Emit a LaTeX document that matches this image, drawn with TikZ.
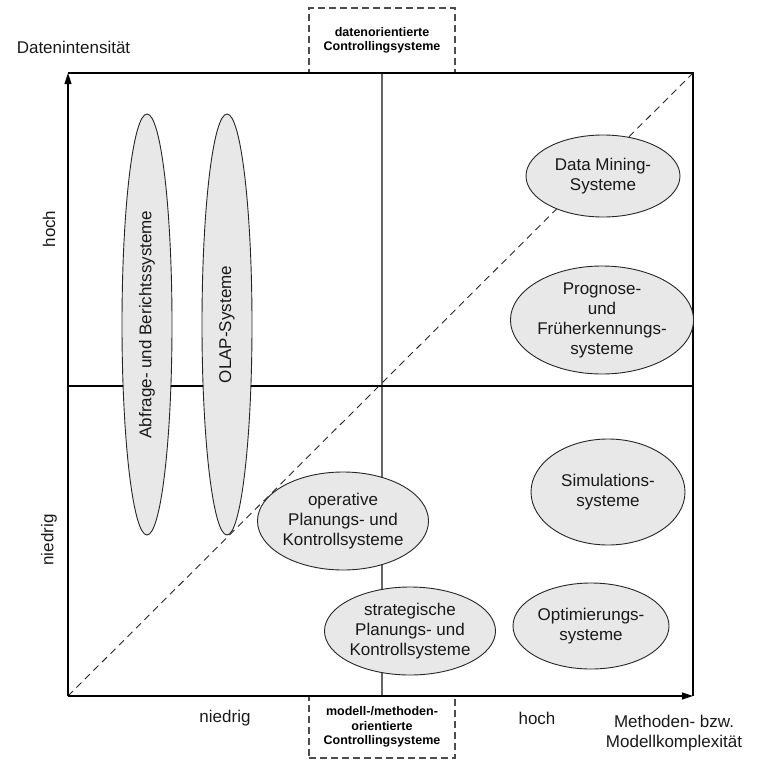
\documentclass[tikz,border=0pt]{standalone}
\usepackage{fontspec}
\setmainfont{Liberation Sans}
\usetikzlibrary{shapes.geometric,arrows.meta}
\begin{document}
\begin{tikzpicture}[x=1pt,y=-1pt,
  ell/.style={ellipse,draw=black!85,fill=black!9,line width=0.9pt,inner sep=0pt,align=center,text=black!90,font=\fontsize{17}{20}\selectfont},
  lab/.style={font=\fontsize{17}{20}\selectfont,align=center,inner sep=0pt,text=black!90},
  dbox/.style={draw=black!70,dash pattern=on 7pt off 4pt,line width=1.2pt,fill=white,font=\bfseries\fontsize{12.5}{14.5}\selectfont,align=center,inner sep=0pt,minimum width=146pt},
  frameline/.style={line width=1.1pt,black},
  arr/.style={-{Triangle[length=11pt,width=7pt]}}]
\useasboundingbox (0,0) rectangle (768,768);
% coordinates
\coordinate (O) at (68,696);
\coordinate (TL) at (68,73);
\coordinate (TR) at (693,73);
\coordinate (BR) at (693,696);
\coordinate (ML) at (68,386);
\coordinate (MR) at (693,386);
% dashed boxes
\node[dbox,minimum height=65pt] (topbox) at (382,40.5) {datenorientierte\\Controllingsysteme};
\node[dbox,minimum height=62pt] (botbox) at (382,727) {modell-/methoden-\\orientierte\\Controllingsysteme};
% grid lines
\draw[line width=1.1pt,black!60] (topbox.south) -- (botbox.north);
\draw[frameline] (ML) -- (MR);
\draw[frameline] (TL) -- (TR) -- (BR);
\draw[black!85,line width=0.9pt,dash pattern=on 7pt off 5pt] (O) -- (TR);
\draw[frameline,arr] (O) -- (TL);
\draw[frameline,arr] (O) -- (BR);
% ellipses
\node[ell,rotate=90,minimum width=421pt,minimum height=50pt] (abf) at (147,324.5) {Abfrage- und Berichtssysteme};
\node[ell,rotate=90,minimum width=421pt,minimum height=50pt] (olap) at (227,324.5) {OLAP-Systeme};
\node[ell,minimum width=154pt,minimum height=82pt] (dm) at (603,176) {Data Mining-\\Systeme};
\node[ell,minimum width=166pt,minimum height=108pt] (prog) at (602,320) {Prognose-\\und\\Früherkennungs-\\systeme};
\node[ell,minimum width=154pt,minimum height=106pt] (sim) at (608,492) {Simulations-\\systeme};
\node[ell,minimum width=156pt,minimum height=86pt] (opt) at (591,626) {Optimierungs-\\systeme};
\node[ell,minimum width=164pt,minimum height=98pt] (oper) at (343,521) {operative\\Planungs- und\\Kontrollsysteme};
\node[ell,minimum width=156pt,minimum height=88pt] (strat) at (410,631) {strategische\\Planungs- und\\Kontrollsysteme};
% labels
\node[lab] (yl) at (73.5,47) {Datenintensität};
\node[lab] (xl) at (674,733) {Methoden- bzw.\\Modellkomplexität};
\node[lab,rotate=90] (yh) at (49,229) {hoch};
\node[lab,rotate=90] (yn) at (49,540) {niedrig};
\node[lab] (xn) at (225,718) {niedrig};
\node[lab] (xh) at (537,718) {hoch};
\end{tikzpicture}
\end{document}
